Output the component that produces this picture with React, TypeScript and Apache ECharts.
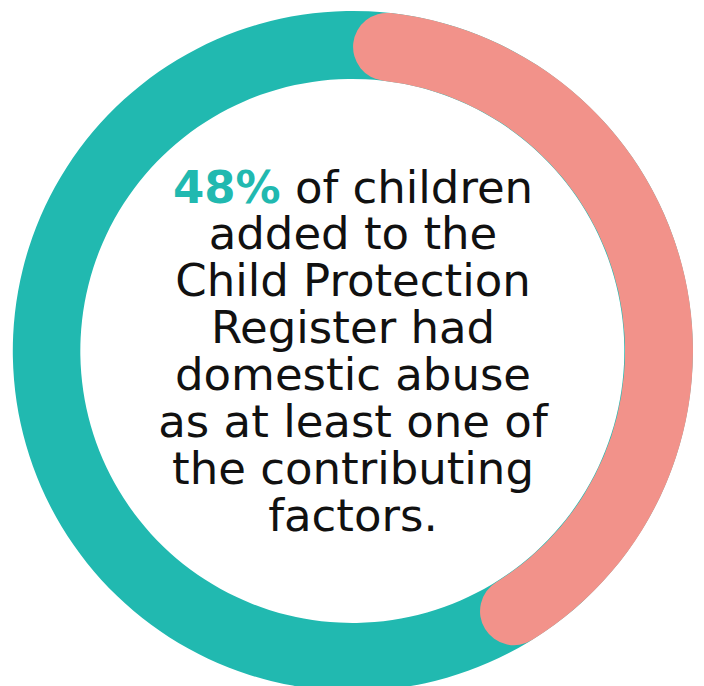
import React, { useEffect, useRef } from "react";
import * as echarts from "echarts";

// Data
const arcNames = ["Highlighted arc"];
const arcValues = [39.4]; // share of the ring covered by the salmon arc (percent)
const ringMin = [0];
const ringMax = [100];
const highlightText = ["48%"];
const bodyLines = [
  " of children",
  "added to the",
  "Child Protection",
  "Register had",
  "domestic abuse",
  "as at least one of",
  "the contributing",
  "factors.",
];

const TEAL = "#21b9b0";
const SALMON = "#f2928a";
const FONT = "'DejaVu Sans', sans-serif";
const SIZE = 45;
const LH = 46;

export default function App() {
  const ref = useRef<HTMLDivElement>(null);

  useEffect(() => {
    if (!ref.current) return;
    const chart = echarts.init(ref.current, undefined, { renderer: "svg" });
    const startAngle = 90 - 6.4;
    const lineGap = 46.9;
    const firstCenter = 187;
    const textEls: any[] = bodyLines.map((l, i) => ({
      type: "text",
      x: 353,
      y: firstCenter + i * lineGap,
      style: {
        text: i === 0 ? `{hl|${highlightText[0]}}{b|${l}}` : l,
        align: "center",
        verticalAlign: "middle",
        fontFamily: FONT,
        fontSize: SIZE,
        lineHeight: LH,
        fill: "#111111",
        rich: {
          hl: { fontFamily: FONT, fontSize: SIZE, lineHeight: LH, fontWeight: "bold", fill: TEAL, color: TEAL },
          b: { fontFamily: FONT, fontSize: SIZE, lineHeight: LH, fill: "#111111", color: "#111111" },
        },
      },
    }));
    chart.setOption({
      animation: false,
      backgroundColor: "#ffffff",
      series: [
        {
          type: "gauge",
          name: arcNames[0],
          center: [353, 351],
          radius: 340,
          startAngle: startAngle,
          endAngle: startAngle - 360,
          min: ringMin[0],
          max: ringMax[0],
          clockwise: true,
          axisLine: {
            show: true,
            roundCap: false,
            lineStyle: { width: 68, color: [[1, TEAL]] },
          },
          progress: {
            show: true,
            roundCap: true,
            width: 68,
            itemStyle: { color: SALMON },
          },
          splitLine: { show: false },
          axisTick: { show: false },
          axisLabel: { show: false },
          pointer: { show: false },
          anchor: { show: false },
          title: { show: false },
          detail: { show: false },
          data: [{ value: arcValues[0], name: arcNames[0] }],
        },
      ],
      graphic: textEls,
    });
    return () => chart.dispose();
  }, []);

  return (
    <div
      ref={ref}
      style={{ position: "fixed", left: 0, top: 0, width: 704, height: 686 }}
    />
  );
}
